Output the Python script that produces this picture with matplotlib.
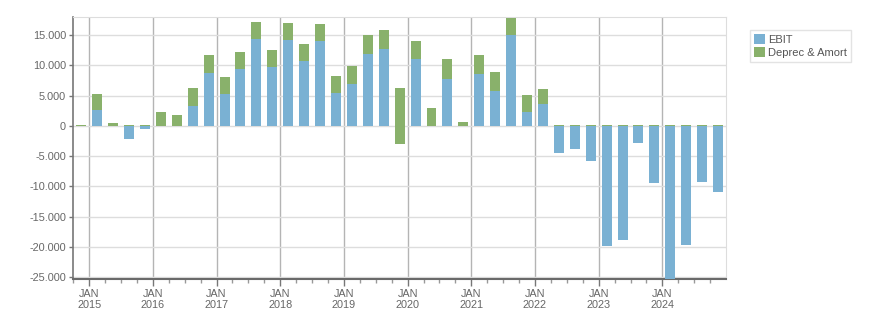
import numpy as np
import pandas as pd
import matplotlib
matplotlib.use("Agg")
import matplotlib.pyplot as plt
from matplotlib.ticker import FixedLocator, FuncFormatter

QUARTERS = pd.period_range("2014Q4", "2024Q4", freq="Q")

EBIT = [-60, 2650, -80, -2120, -480, 60, 60, 3300, 8760, 5290,
        9370, 14330, 9700, 14220, 10750, 14050, 5450, 7000, 11960, 12730,
        -2930, 11075, 60, 7770, 60, 8650, 5790, 15040, 2310, 3640,
        -4460, -3800, -5770, -19880, -18830, -2760, -9410, -25300, -19660, -9240,
        -10900]
DEPREC_AMORT = [150, 2640, 580, 160, 160, 2300, 1760, 2980, 2980, 2810,
                2860, 2860, 2860, 2810, 2860, 2810, 2810, 2920, 3080, 3140,
                9270, 2975, 2900, 3300, 600, 3085, 3140, 2810, 2810, 2480,
                160, 160, 160, 160, 160, 160, 160, 160, 160, 160,
                160]
YEARS = list(range(2015, 2025))

BLUE = "#7ab1d3"
GREEN = "#89b16b"
TEXT = "#666666"


def thousands(v, pos):
    return f"{v:,.0f}".replace(",", ".")


def plot():
    plt.rcParams["font.family"] = ["Liberation Sans", "DejaVu Sans"]
    ebit = np.array(EBIT, dtype=float)
    da = np.array(DEPREC_AMORT, dtype=float)
    x = np.array([q.year + (q.quarter - 0.5) / 4 for q in QUARTERS])

    fig = plt.figure(figsize=(8.76, 3.13), dpi=100)
    ax = fig.add_axes([0.0833, 0.1086, 0.7455, 0.8371])

    width = 0.157
    ax.bar(x, ebit, width=width, color=BLUE, label="EBIT", zorder=3)
    # D&A sits on EBIT when EBITDA is positive, otherwise from zero
    base = np.where(ebit + da > 0, ebit, 0)
    ax.bar(x, da, width=width, bottom=base, color=GREEN,
           label="Deprec & Amort", zorder=3)

    ax.set_xlim(2014.745, 2025.0)
    ax.set_ylim(-25300, 18000)

    ax.xaxis.set_major_locator(FixedLocator(YEARS))
    ax.set_xticklabels([f"JAN\n{y}" for y in YEARS])
    ax.xaxis.set_minor_locator(FixedLocator(
        [y + q / 4 for y in range(2014, 2025) for q in range(1, 4)]))
    ax.set_yticks(range(-25000, 15001, 5000))
    ax.yaxis.set_major_formatter(FuncFormatter(thousands))

    ax.grid(axis="y", color="#dddddd", linewidth=1, zorder=0)
    ax.grid(axis="x", which="major", color="#b4b4b4", linewidth=1, zorder=1)
    ax.set_axisbelow(True)

    ax.tick_params(axis="x", which="major", length=5, width=1,
                   color="#777777", labelsize=7.8, labelcolor=TEXT, pad=2)
    ax.tick_params(axis="x", which="minor", length=3, width=1,
                   color="#999999")
    ax.tick_params(axis="y", length=3, width=1, color="#777777",
                   labelsize=7.8, labelcolor=TEXT, pad=2)
    for lbl in ax.get_xticklabels():
        lbl.set_linespacing(1.1)

    ax.spines["left"].set_color("#777777")
    ax.spines["left"].set_linewidth(1.2)
    ax.spines["bottom"].set_color("#6a6a6a")
    ax.spines["bottom"].set_linewidth(1.5)
    ax.spines["top"].set_color("#dddddd")
    ax.spines["right"].set_color("#dddddd")

    leg = fig.legend(loc="upper left", bbox_to_anchor=(0.856, 0.904),
                     fontsize=8, frameon=True, fancybox=False,
                     handlelength=1.0, handleheight=1.0, handletextpad=0.3,
                     borderpad=0.35, labelspacing=0.2, borderaxespad=0)
    leg.get_frame().set_edgecolor("#dddddd")
    leg.get_frame().set_linewidth(1)
    for t in leg.get_texts():
        t.set_color("#555555")

    fig.savefig("out.png", dpi=100)


def main():
    plot()


if __name__ == "__main__":
    main()
